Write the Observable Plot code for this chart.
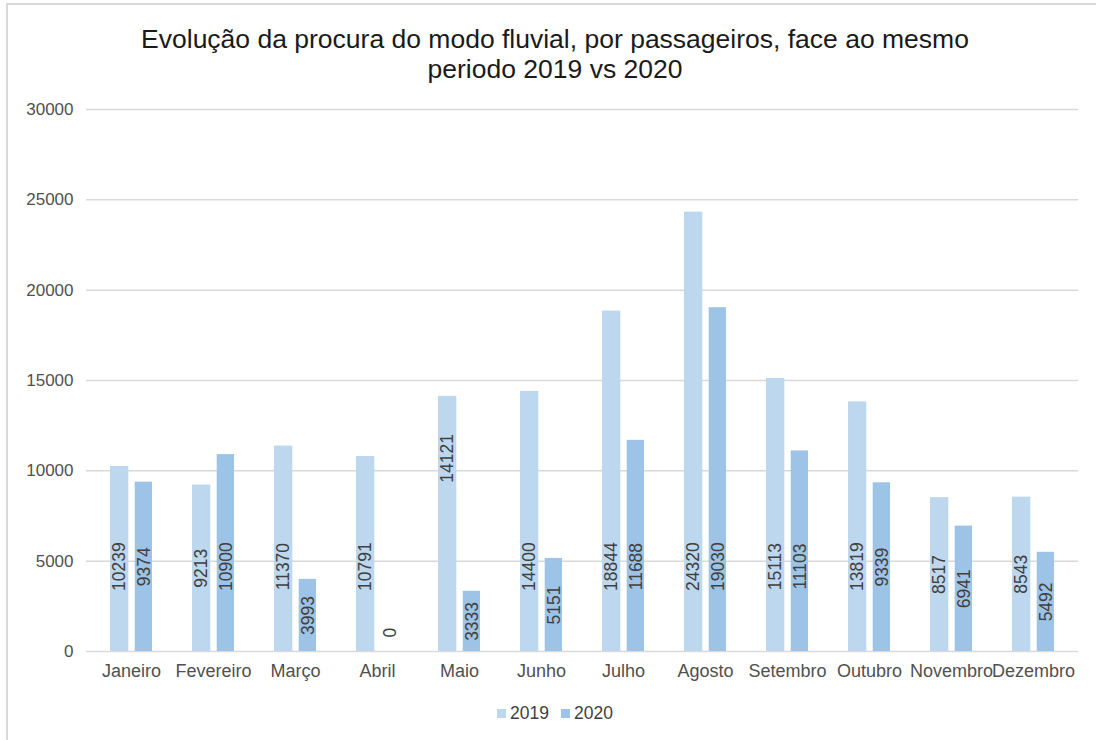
<!DOCTYPE html>
<html>
<head>
<meta charset="utf-8">
<script src="https://cdn.jsdelivr.net/npm/d3@7"></script>
<script src="https://cdn.jsdelivr.net/npm/@observablehq/plot@0.6"></script>
<style>
  html, body { margin: 0; padding: 0; background: #fff; }
  #wrap { position: relative; width: 1096px; height: 740px; overflow: hidden; font-family: "Liberation Sans", Arial, sans-serif; }
  #border { position: absolute; left: 6px; top: 3px; width: 1200px; height: 800px; border-left: 2px solid #d9d9d9; border-top: 2px solid #d9d9d9; }
  #title { position: absolute; left: 0; top: 24px; width: 1110px; text-align: center; font-size: 26.5px; line-height: 30px; color: #1a1a1a; }
  #chart { position: absolute; left: 0; top: 90px; }
  #legend { position: absolute; left: 0; top: 703px; width: 1110px; text-align: center; font-size: 17.5px; color: #404040; }
  #legend span.item { display: inline-block; margin: 0 6px; }
  #legend span.sw { display: inline-block; width: 9px; height: 9px; margin-right: 4px; vertical-align: 1px; }
</style>
</head>
<body>
<div id="wrap">
  <div id="border"></div>
  <div id="title">Evolução da procura do modo fluvial, por passageiros, face ao mesmo<br>periodo 2019 vs 2020</div>
  <div id="chart"></div>
  <div id="legend"></div>
</div>
<script>
const months = ["Janeiro","Fevereiro","Março","Abril","Maio","Junho","Julho","Agosto","Setembro","Outubro","Novembro","Dezembro"];
const values2019 = [10239, 9213, 11370, 10791, 14121, 14400, 18844, 24320, 15113, 13819, 8517, 8543];
const values2020 = [9374, 10900, 3993, 0, 3333, 5151, 11688, 19030, 11103, 9339, 6941, 5492];
const series = ["2019", "2020"];
const colors = ["#bdd7ee", "#9dc3e6"];
const yTicks = [0, 5000, 10000, 15000, 20000, 25000, 30000];

const d2019 = months.map((m, i) => ({month: m, year: "2019", value: values2019[i]}));
const d2020 = months.map((m, i) => ({month: m, year: "2020", value: values2020[i]}));

// label centre (in data units), mimicking the original label placement
function labelY(d) {
  if (d.month === "Maio" && d.year === "2019") return d.value * 0.757;
  return Math.max(Math.min(d.value / 2, 4700), 1050);
}

const font = "'Liberation Sans', Arial, sans-serif";

const chart = Plot.plot({
  width: 1096,
  height: 601,
  marginTop: 19,
  marginLeft: 86,
  marginRight: 18,
  marginBottom: 40,
  x: {domain: months, padding: 0, label: null, tickSize: 0, tickPadding: 13},
  y: {domain: [0, 30000], ticks: yTicks, tickFormat: d => String(d), label: null, tickSize: 0, tickPadding: 13},
  style: {fontFamily: font, fontSize: "17px", color: "#505050", background: "transparent", overflow: "visible"},
  marks: [
    Plot.ruleY(yTicks, {stroke: "#d9d9d9", strokeWidth: 1.5}),
    Plot.barY(d2019, {x: "month", y: "value", fill: colors[0], insetLeft: 20, insetRight: 43.7}),
    Plot.barY(d2020, {x: "month", y: "value", fill: colors[1], insetLeft: 44.7, insetRight: 20}),
    Plot.text(d2019, {x: "month", y: labelY, text: d => String(d.value), rotate: -90, dx: -11.8, fill: "#404040", fontSize: 17.5, fontFamily: font}),
    Plot.text(d2020, {x: "month", y: labelY, text: d => String(d.value), rotate: -90, dx: 12.4, fill: "#404040", fontSize: 17.5, fontFamily: font})
  ]
});
document.getElementById("chart").appendChild(chart);
// x axis tick labels slightly larger than y tick labels, as in the original
chart.querySelectorAll("g[aria-label='x-axis tick label'] text, g[aria-label='x-axis'] text").forEach(t => t.setAttribute("font-size", "18px"));

const legend = document.getElementById("legend");
series.forEach((s, i) => {
  const item = document.createElement("span");
  item.className = "item";
  const sw = document.createElement("span");
  sw.className = "sw";
  sw.style.background = colors[i];
  item.appendChild(sw);
  item.appendChild(document.createTextNode(s));
  legend.appendChild(item);
});
</script>
</body>
</html>
